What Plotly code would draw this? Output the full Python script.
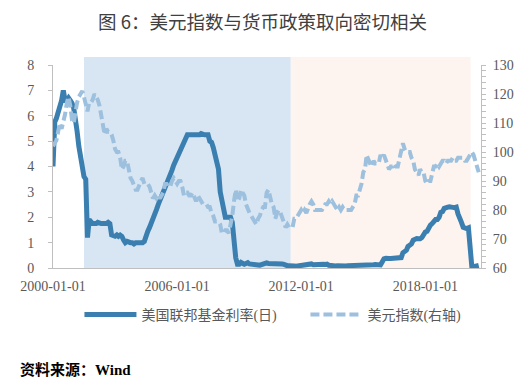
import pandas as pd
import plotly.graph_objects as go

# ---- data (monthly) ----
fed_rate = (
    [4.0, 5.75, 5.9, 6.1, 6.4, 6.6, 7.0, 6.6, 6.6, 6.7, 6.6, 6.5] +          # 2000
    [6.3, 5.9, 5.4, 4.8, 4.4, 3.9, 3.6, 3.5, 1.2, 1.9, 1.8, 1.75] +          # 2001
    [1.75, 1.75, 1.8, 1.75, 1.75, 1.75, 1.75, 1.75, 1.8, 1.75, 1.3, 1.25] +  # 2002
    [1.25, 1.3, 1.25, 1.3, 1.25, 1.1, 1.0, 1.05, 1.0, 1.0, 1.0, 0.95] +      # 2003
    [1.0, 1.0, 1.0, 1.0, 1.0, 1.05, 1.3, 1.45, 1.6, 1.75, 1.95, 2.15] +      # 2004
    [2.3, 2.5, 2.65, 2.8, 3.0, 3.1, 3.3, 3.5, 3.65, 3.85, 4.05, 4.2] +       # 2005
    [4.4, 4.55, 4.65, 4.85, 4.95, 5.05, 5.25, 5.25, 5.25, 5.25, 5.25, 5.25] +  # 2006
    [5.25, 5.25, 5.3, 5.25, 5.25, 5.25, 5.25, 5.0, 4.95, 4.75, 4.5, 4.2] +   # 2007
    [3.9, 3.0, 2.6, 2.3, 2.0, 2.0, 2.0, 2.0, 1.8, 0.95, 0.4, 0.15] +         # 2008
    [0.15, 0.22, 0.18, 0.15, 0.18, 0.21, 0.16, 0.16, 0.15, 0.12, 0.12, 0.12] +  # 2009
    [0.11, 0.13, 0.16, 0.2, 0.2, 0.18, 0.18, 0.19, 0.19, 0.19, 0.19, 0.18] +  # 2010
    [0.17, 0.16, 0.14, 0.1, 0.09, 0.09, 0.07, 0.1, 0.08, 0.07, 0.08, 0.07] +  # 2011
    [0.08, 0.1, 0.13, 0.14, 0.16, 0.16, 0.16, 0.13, 0.14, 0.16, 0.16, 0.16] +  # 2012
    [0.14, 0.15, 0.14, 0.15, 0.11, 0.09, 0.09, 0.08, 0.08, 0.09, 0.08, 0.09] +  # 2013
    [0.07, 0.07, 0.08, 0.09, 0.09, 0.1, 0.09, 0.09, 0.09, 0.09, 0.09, 0.12] +  # 2014
    [0.11, 0.11, 0.11, 0.12, 0.12, 0.13, 0.13, 0.14, 0.14, 0.12, 0.12, 0.24] +  # 2015
    [0.36, 0.38, 0.36, 0.37, 0.37, 0.38, 0.39, 0.4, 0.4, 0.4, 0.41, 0.6] +   # 2016
    [0.66, 0.7, 0.85, 0.9, 0.95, 1.1, 1.15, 1.16, 1.15, 1.15, 1.2, 1.35] +   # 2017
    [1.42, 1.45, 1.6, 1.69, 1.75, 1.85, 1.91, 1.91, 2.0, 2.19, 2.22, 2.35] +  # 2018
    [2.4, 2.4, 2.41, 2.42, 2.39, 2.38, 2.4, 2.13, 2.0, 1.8, 1.6, 1.55] +     # 2019
    [1.55, 1.58, 0.65, 0.05, 0.05, 0.08, 0.09, 0.1]                          # 2020
)

dollar_index = (
    [102, 103, 104, 107, 110, 108, 110, 113, 117, 119, 116, 111] +   # 2000
    [110, 114, 117, 119, 120, 121, 119, 116, 114, 117, 117, 118] +   # 2001
    [120, 119, 118, 116, 112, 108, 106, 108, 107, 107, 106, 104] +   # 2002
    [101, 100, 100, 98, 94, 95, 97, 97, 93, 91, 90, 88] +            # 2003
    [87, 87, 89, 90, 91, 89, 89, 89, 88, 86, 84, 85] +               # 2004
    [84, 85, 84, 85, 86, 89, 89, 88, 88, 90, 91, 90] +               # 2005
    [89, 90, 90, 88, 85, 86, 86, 85, 85, 86, 84, 83] +               # 2006
    [85, 84, 83, 82, 82, 82, 81, 81, 79, 78, 76, 76] +               # 2007
    [76, 75, 72, 72, 73, 73, 72, 75, 78, 83, 87, 83] +               # 2008
    [84, 87, 86, 85, 82, 80, 79, 78, 77, 76, 75, 77] +               # 2009
    [78, 80, 81, 81, 86, 87, 84, 82, 81, 77, 79, 80] +               # 2010
    [79, 77, 76, 74, 75, 74, 74, 74, 77, 77, 78, 79] +               # 2011
    [80, 79, 80, 79, 81, 82, 83, 82, 80, 80, 80, 80] +               # 2012
    [80, 81, 82, 82, 83, 82, 83, 82, 81, 80, 81, 80] +               # 2013
    [81, 80, 80, 80, 80, 80, 81, 82, 85, 85, 87, 89] +               # 2014
    [93, 94, 99, 97, 96, 95, 97, 96, 96, 96, 99, 98] +               # 2015
    [99, 97, 96, 94, 95, 95, 96, 95, 95, 98, 100, 103] +             # 2016
    [101, 100, 100, 100, 98, 97, 94, 93, 92, 94, 93, 93] +           # 2017
    [90, 89, 90, 90, 93, 95, 95, 96, 95, 96, 97, 97] +               # 2018
    [96, 97, 97, 97, 98, 97, 97, 98, 98, 98, 98, 97] +               # 2019
    [97, 98, 99, 100, 99, 97, 95, 93]                                # 2020
)

dates = pd.date_range("2000-01-01", periods=len(fed_rate), freq="MS")

tick_labels = ["2000-01-01", "2006-01-01", "2012-01-01", "2018-01-01"]

easing_period = ("2001-07-01", "2011-07-01")
tightening_period = ("2011-07-01", "2020-03-10")

series_names = ["美国联邦基金利率(日)", "美元指数(右轴)"]

# ---- figure ----
fig = go.Figure()
fig.add_trace(go.Scatter(
    x=dates, y=fed_rate, name=series_names[0], mode="lines",
    line=dict(color="#3a7fb0", width=5), legendwidth=159,
))
fig.add_trace(go.Scatter(
    x=dates, y=dollar_index, name=series_names[1], mode="lines", yaxis="y2",
    line=dict(color="#9cc0dd", width=4, dash="9px,4px"),
))

fig.add_shape(type="rect", xref="x", yref="paper",
              x0=easing_period[0], x1=easing_period[1], y0=0, y1=1.04,
              fillcolor="#d8e6f3", line_width=0, layer="below")
fig.add_shape(type="rect", xref="x", yref="paper",
              x0=tightening_period[0], x1=tightening_period[1], y0=0, y1=1.04,
              fillcolor="#fdf4ef", line_width=0, layer="below")

tick_font = dict(family="Liberation Serif, Noto Sans CJK SC", size=14, color="#595959")

# page body has an 8px margin, so the figure is sized to the remaining window
fig.update_layout(
    width=521, height=380,
    margin=dict(l=36, r=48, t=57, b=120),
    paper_bgcolor="white", plot_bgcolor="white",
    title=dict(text="图 6：美元指数与货币政策取向密切相关", x=0.4885, xanchor="center",
               y=0.9605, yanchor="middle",
               font=dict(family="Noto Sans CJK SC", size=18.5, color="#404040")),
    xaxis=dict(type="date", range=["2000-01-01", "2020-09-10"],
               tickvals=tick_labels, ticktext=tick_labels,
               showline=True, linecolor="#bfbfbf", linewidth=1,
               showgrid=False, zeroline=False, ticks="outside", ticklen=3,
               tickcolor="rgba(0,0,0,0)", ticklabelstandoff=2, tickfont=tick_font),
    yaxis=dict(range=[0, 8], dtick=1, showline=True, linecolor="#bfbfbf",
               showgrid=False, zeroline=False, ticks="outside", ticklen=4,
               tickcolor="#bfbfbf", ticklabelstandoff=11, tickfont=tick_font),
    yaxis2=dict(range=[60, 130], dtick=10, overlaying="y", side="right",
                showline=True, linecolor="#bfbfbf", showgrid=False, zeroline=False,
                ticks="outside", ticklen=4, tickcolor="#bfbfbf", ticklabelstandoff=4,
                tickfont=tick_font,
                minor=dict(ticks="outside", ticklen=4, dtick=2, tickcolor="#bfbfbf")),
    legend=dict(orientation="h", x=0.0618, xanchor="left", y=-0.2315, yanchor="middle",
                itemwidth=52,
                font=dict(family="Liberation Serif, Noto Sans CJK SC",
                          size=14, color="#595959")),
    showlegend=True,
)

fig.add_annotation(text="<b>资料来源：Wind</b>", xref="paper", yref="paper",
                   x=-0.0824, y=-0.502, xanchor="left", yanchor="middle", showarrow=False,
                   font=dict(family="Liberation Serif, Noto Sans CJK SC", size=15, color="#000000"))

fig.write_html("out.html")
